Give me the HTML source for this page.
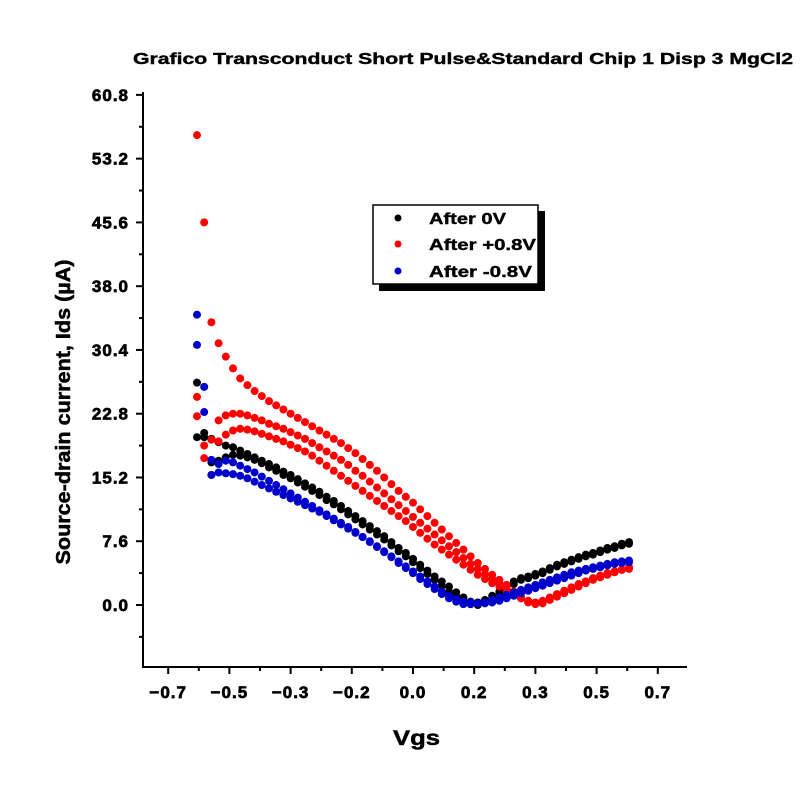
<!DOCTYPE html>
<html><head><meta charset="utf-8"><style>
body{margin:0;background:#fff}
svg text{font-family:"Liberation Sans",Arial,sans-serif;font-weight:bold}
.tk{font-size:17px;stroke:#000;stroke-width:0.7px;letter-spacing:1px}
</style></head><body>
<svg id="chart" width="800" height="800" xmlns="http://www.w3.org/2000/svg">
<rect width="800" height="800" fill="#fff"/>
<text x="133" y="64" font-size="16" textLength="660" lengthAdjust="spacingAndGlyphs" stroke="#000" stroke-width="0.4">Grafico Transconduct Short Pulse&amp;Standard Chip 1 Disp 3 MgCl2</text>
<g id="axes"></g>
<g id="marks"></g>
<text x="393" y="745" font-size="21" textLength="47" lengthAdjust="spacingAndGlyphs" stroke="#000" stroke-width="0.5">Vgs</text>
<text transform="translate(70,412) rotate(-90)" font-size="20" text-anchor="middle" textLength="305" lengthAdjust="spacingAndGlyphs" stroke="#000" stroke-width="0.5">Source-drain current, Ids (µA)</text>
<g>
<rect x="379" y="211" width="166" height="80" fill="#000"/>
<rect x="373" y="205" width="165" height="79" fill="#fff" stroke="#000" stroke-width="1.5"/>
<g><circle cx="398" cy="218" r="3.5" fill="#000"/><text x="429" y="224" font-size="16" textLength="77" lengthAdjust="spacingAndGlyphs" stroke="#000" stroke-width="0.4">After 0V</text></g>
<g><circle cx="398" cy="244" r="3.5" fill="#f00"/><text x="429" y="250" font-size="16" textLength="107" lengthAdjust="spacingAndGlyphs" stroke="#000" stroke-width="0.4">After +0.8V</text></g>
<g><circle cx="398" cy="271" r="3.5" fill="#00c"/><text x="429" y="277" font-size="16" textLength="103" lengthAdjust="spacingAndGlyphs" stroke="#000" stroke-width="0.4">After -0.8V</text></g>
</g>
</svg>
<script>
const xTickValues=[-0.68,-0.51,-0.34,-0.17,0,0.17,0.34,0.51,0.68];
const xTickLabels=["−0.7","−0.5","−0.3","−0.2","0.0","0.2","0.3","0.5","0.7"];
const yTickValues=[0,7.6,15.2,22.8,30.4,38.0,45.6,53.2,60.8];
const yTickLabels=["0.0","7.6","15.2","22.8","30.4","38.0","45.6","53.2","60.8"];
const vgs=[-0.60,-0.58,-0.56,-0.54,-0.52,-0.50,-0.48,-0.46,-0.44,-0.42,-0.40,-0.38,-0.36,-0.34,-0.32,-0.30,-0.28,-0.26,-0.24,-0.22,-0.20,-0.18,-0.16,-0.14,-0.12,-0.10,-0.08,-0.06,-0.04,-0.02,0,0.02,0.04,0.06,0.08,0.10,0.12,0.14,0.16,0.18,0.20,0.22,0.24,0.26,0.28,0.30,0.32,0.34,0.36,0.38,0.40,0.42,0.44,0.46,0.48,0.50,0.52,0.54,0.56,0.58,0.60];
const black1=[20.0,20.0,19.8,19.4,19.0,18.8,18.4,18.0,17.6,17.2,16.8,16.4,15.9,15.5,15.0,14.5,14.0,13.5,12.9,12.4,11.8,11.2,10.6,10.0,9.4,8.8,8.2,7.5,6.8,6.2,5.5,4.8,4.1,3.4,2.8,2.2,1.5,0.9,0.4,0.3,0.6,1.1,1.6,2.2,2.8,3.2,3.4,3.7,4.0,4.4,4.8,5.1,5.4,5.7,6.0,6.2,6.5,6.8,7.0,7.3,7.5];
const black2=[26.5,20.5,17.0,17.2,17.6,17.9,17.8,17.6,17.3,16.9,16.4,16.0,15.5,15.1,14.6,14.1,13.6,13.1,12.5,12.0,11.4,10.8,10.2,9.6,9.0,8.4,7.8,7.1,6.4,5.8,5.1,4.4,3.7,3.0,2.3,1.6,1.0,0.5,0.1,0.0,0.3,0.8,1.3,1.9,2.5,3.0,3.2,3.5,3.8,4.2,4.6,4.9,5.2,5.5,5.8,6.0,6.3,6.6,6.8,7.1,7.3];
const red1=[56.0,45.6,33.7,31.2,29.6,28.2,27.0,26.2,25.5,24.9,24.3,23.8,23.3,22.8,22.3,21.8,21.3,20.8,20.3,19.8,19.3,18.7,18.1,17.4,16.7,16.0,15.2,14.4,13.6,12.9,12.2,11.4,10.6,9.8,9.0,8.2,7.4,6.6,5.8,5.0,4.3,3.6,3.0,2.4,1.6,0.8,0.3,0.1,0.2,0.6,1.0,1.4,1.8,2.2,2.6,3.0,3.3,3.6,3.9,4.2,4.5];
const red2=[22.5,19.0,19.7,22.0,22.6,22.8,22.8,22.6,22.3,22.0,21.6,21.3,21.0,20.6,20.2,19.8,19.3,18.8,18.3,17.8,17.3,16.7,16.0,15.4,14.7,14.0,13.3,12.6,11.9,11.2,10.5,9.8,9.1,8.4,7.7,7.0,6.3,5.6,4.9,4.3,3.7,3.1,2.6,2.1,1.6,1.0,0.5,0.3,0.5,0.9,1.3,1.7,2.1,2.5,2.8,3.1,3.4,3.7,4.0,4.2,4.4];
const red3=[24.8,17.5,15.5,19.5,20.3,20.8,21.0,20.9,20.7,20.4,20.1,19.8,19.5,19.1,18.7,18.3,17.8,17.2,16.6,16.0,15.4,14.8,14.2,13.6,13.0,12.4,11.8,11.2,10.6,10.0,9.3,8.6,7.9,7.2,6.6,6.0,5.4,4.8,4.2,3.6,3.1,2.6,2.2,1.8,1.3,0.8,0.4,0.2,0.4,0.8,1.2,1.6,2.0,2.4,2.8,3.2,3.5,3.8,4.0,4.2,4.3];
const blue1=[34.6,23.0,17.3,15.8,15.7,15.6,15.4,15.1,14.7,14.3,13.9,13.5,13.1,12.7,12.3,11.9,11.5,11.1,10.6,10.1,9.6,9.1,8.6,8.1,7.6,7.0,6.4,5.8,5.2,4.6,4.0,3.4,2.8,2.2,1.6,1.1,0.7,0.4,0.3,0.2,0.2,0.3,0.5,0.8,1.1,1.4,1.7,2.0,2.3,2.6,2.9,3.2,3.5,3.8,4.1,4.3,4.5,4.7,4.9,5.0,5.1];
const blue2=[31.0,26.0,15.5,16.8,17.2,17.0,16.6,16.2,15.8,15.3,14.8,14.3,13.8,13.3,12.8,12.3,11.8,11.3,10.8,10.3,9.8,9.3,8.7,8.1,7.5,6.9,6.3,5.7,5.0,4.4,3.8,3.1,2.5,1.9,1.3,0.8,0.4,0.1,0.1,0.2,0.3,0.6,0.9,1.2,1.5,1.8,2.1,2.4,2.7,3.0,3.3,3.6,3.9,4.1,4.3,4.5,4.7,4.9,5.1,5.2,5.3];
const NS="http://www.w3.org/2000/svg";
const X0=143,X1=687,Y0=667,Y1=92;
function xs(v){return 413+v*360;}
function ys(v){return 605-v*8.39;}
const axes=document.getElementById('axes');
function mk(tag,attrs,parent){const e=document.createElementNS(NS,tag);for(const k in attrs)e.setAttribute(k,attrs[k]);parent.appendChild(e);return e;}
const yAxis=mk('line',{x1:X0,y1:Y0,x2:X0,y2:Y1,stroke:'#000','stroke-width':2},axes);


const xAxis=mk('line',{x1:X0-1,y1:Y0,x2:X1,y2:Y0,stroke:'#000','stroke-width':2},axes);


xTickValues.forEach((v,i)=>{
  const x=xs(v);
  mk('line',{x1:x,y1:Y0,x2:x,y2:Y0+7,stroke:'#000','stroke-width':2},axes);
  if(i<xTickValues.length-1){const xm=xs(v+0.085);mk('line',{x1:xm,y1:Y0,x2:xm,y2:Y0+4,stroke:'#000','stroke-width':2},axes);}
  const t=mk('text',{x:x,y:Y0+31,'class':'tk','text-anchor':'middle'},axes);
  t.textContent=xTickLabels[i];
  
  
});
yTickValues.forEach((v,i)=>{
  const y=ys(v);
  mk('line',{x1:X0-7,y1:y,x2:X0,y2:y,stroke:'#000','stroke-width':2},axes);
  const ym=ys(v-3.8);mk('line',{x1:X0-4,y1:ym,x2:X0,y2:ym,stroke:'#000','stroke-width':2},axes);
  const t=mk('text',{x:X0-14,y:y+6,'class':'tk','text-anchor':'end'},axes);
  t.textContent=yTickLabels[i];
  
  
});
const marks=document.getElementById('marks');
const series=[[black1,'#000','after-0v'],[black2,'#000','after-0v'],[red1,'#f00','after-plus-0.8v'],[red2,'#f00','after-plus-0.8v'],[red3,'#f00','after-plus-0.8v'],[blue1,'#00c','after-minus-0.8v'],[blue2,'#00c','after-minus-0.8v']];
series.forEach(([vals,col,name])=>{
  const g=mk('g',{},marks);
  
  
  vals.forEach((v,i)=>{
    const c=mk('circle',{cx:xs(vgs[i]),cy:ys(v),r:4,fill:col},g);
    
    
  });
});
</script>
</body></html>
